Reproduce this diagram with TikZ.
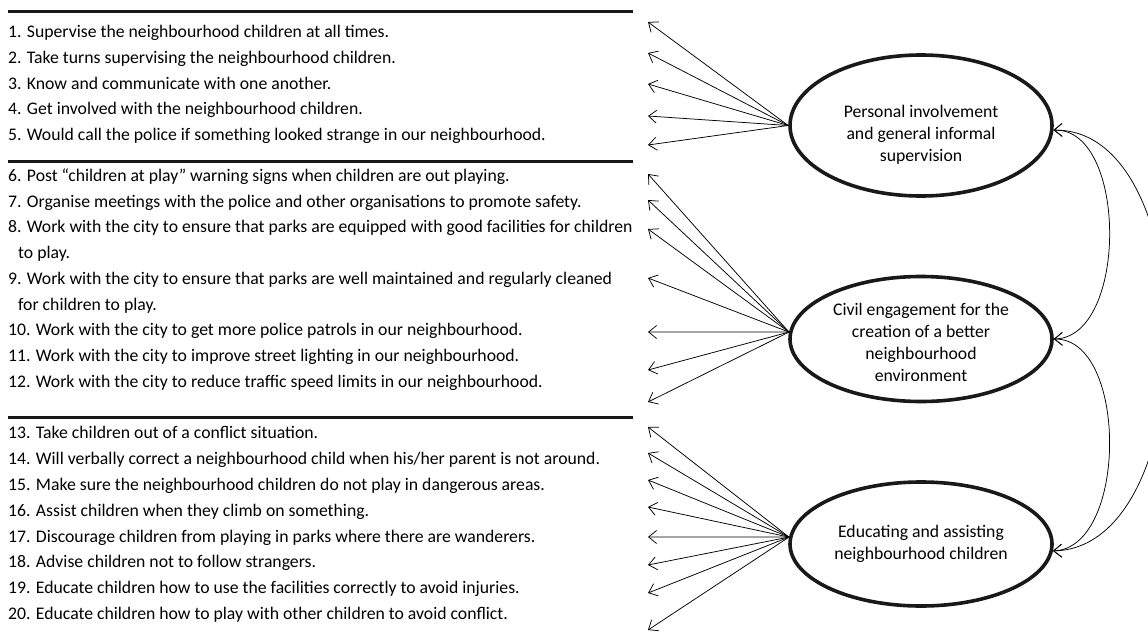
\documentclass[tikz,border=0pt]{standalone}
\usepackage{fontspec}
\setmainfont{Carlito}
\usetikzlibrary{shapes.geometric,arrows.meta}
\begin{document}
\begin{tikzpicture}[x=1pt,y=-1pt,
  item/.style={anchor=base west, inner sep=0pt, font=\fontsize{17.7}{20}\selectfont},
  bar/.style={line width=3pt, draw=black!90},
  ell/.style={draw=black!90, ellipse, line width=3.6pt, minimum width=262pt, inner sep=0pt},
  etext/.style={align=center, inner sep=0pt, font=\fontsize{17.7}{22}\selectfont},
  link/.style={-{Straight Barb[length=8pt,width=13pt]}, line width=0.75pt},
  corr/.style={{Straight Barb[length=8pt,width=13pt]}-{Straight Barb[length=8pt,width=13pt]}, line width=0.75pt}]
\useasboundingbox (0,0) rectangle (1148,642);

% bars
\draw[bar] (8,12) -- (633,12);
\draw[bar] (8,161) -- (633,161);
\draw[bar] (8,417) -- (633,417);

% items
\node[item] (t1) at (8,37.5) {1. Supervise the neighbourhood children at all times.};
\node[item] (t2) at (8,63.2) {2. Take turns supervising the neighbourhood children.};
\node[item] (t3) at (8,89) {3. Know and communicate with one another.};
\node[item] (t4) at (8,114.7) {4. Get involved with the neighbourhood children.};
\node[item] (t5) at (8,140.5) {5. Would call the police if something looked strange in our neighbourhood.};
\node[item] (t6) at (8,181.5) {6. Post “children at play” warning signs when children are out playing.};
\node[item] (t7) at (8,207.2) {7. Organise meetings with the police and other organisations to promote safety.};
\node[item] (t8) at (8,232.9) {8. Work with the city to ensure that parks are equipped with good facilities for children};
\node[item] (t8b) at (18,258.6) {to play.};
\node[item] (t9) at (8,284.3) {9. Work with the city to ensure that parks are well maintained and regularly cleaned};
\node[item] (t9b) at (18,310) {for children to play.};
\node[item] (t10) at (8,335.7) {10. Work with the city to get more police patrols in our neighbourhood.};
\node[item] (t11) at (8,361.4) {11. Work with the city to improve street lighting in our neighbourhood.};
\node[item] (t12) at (8,387.1) {12. Work with the city to reduce traffic speed limits in our neighbourhood.};
\node[item] (t13) at (8,438.5) {13. Take children out of a conflict situation.};
\node[item] (t14) at (8,464.4) {14. Will verbally correct a neighbourhood child when his/her parent is not around.};
\node[item] (t15) at (8,490.2) {15. Make sure the neighbourhood children do not play in dangerous areas.};
\node[item] (t16) at (8,516.1) {16. Assist children when they climb on something.};
\node[item] (t17) at (8,542) {17. Discourage children from playing in parks where there are wanderers.};
\node[item] (t18) at (8,567.8) {18. Advise children not to follow strangers.};
\node[item] (t19) at (8,593.7) {19. Educate children how to use the facilities correctly to avoid injuries.};
\node[item] (t20) at (8,619.5) {20. Educate children how to play with other children to avoid conflict.};

% ellipses
\node[ell, minimum height=141pt] (e1) at (921,125.5) {};
\node[ell, minimum height=125pt] (e2) at (921,339) {};
\node[ell, minimum height=124pt] (e3) at (921,544) {};
\node[etext] (l1) at (921,135) {Personal involvement\\and general informal\\supervision};
\node[etext] (l2) at (921,342) {Civil engagement for the\\creation of a better\\neighbourhood\\environment};
\node[etext] (l3) at (921,544) {Educating and assisting\\neighbourhood children};

% arrow tips
\foreach \n/\y in {1/22,2/53,3/84,4/116,5/145,6/174,7/200,8/229,9/278,10/332,11/370,12/402,13/427,14/453,15/480,16/507,17/537,18/565,19/593,20/630}
  \coordinate (a\n) at (648,\y);

\foreach \n in {1,...,5} \draw[link] (e1.west) -- (a\n);
\foreach \n in {6,...,12} \draw[link] (e2.177) -- (a\n);
\foreach \n in {13,...,20} \draw[link] (e3.177) -- (a\n);

% correlations
\draw[corr] (e1.-2) .. controls (1128,128) and (1128,338) .. (e2.east);
\draw[corr] (e2.east) .. controls (1128,338) and (1128,548) .. (e3.-3);
\draw[corr] (e1.-2) .. controls (1205,128) and (1205,548) .. (e3.-3);
\end{tikzpicture}
\end{document}
